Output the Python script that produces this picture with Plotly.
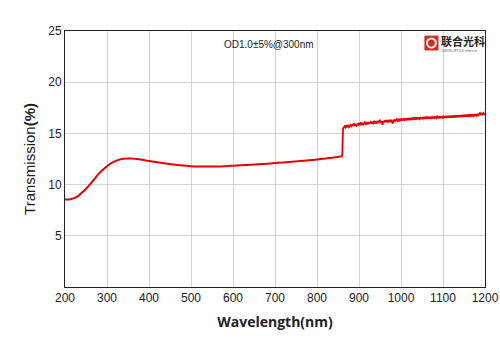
import plotly.graph_objects as go

# Smooth part of the transmission curve (nm, %)
wl_smooth = [200, 210, 220, 230, 240, 250, 260, 270, 280, 290, 300, 310, 320, 330, 340,
             350, 360, 370, 380, 390, 400, 420, 440, 460, 480, 500, 520, 540, 560, 580,
             600, 620, 640, 660, 680, 700, 720, 740, 760, 780, 800, 820, 840, 860]
t_smooth = [8.55, 8.55, 8.65, 8.85, 9.2, 9.6, 10.05, 10.55, 11.05, 11.45, 11.8, 12.1, 12.3, 12.45, 12.53,
            12.56, 12.55, 12.5, 12.44, 12.38, 12.3, 12.18, 12.05, 11.95, 11.86, 11.8, 11.77, 11.76, 11.77, 11.8,
            11.84, 11.88, 11.93, 11.98, 12.04, 12.1, 12.16, 12.23, 12.3, 12.38, 12.45, 12.55, 12.65, 12.76]

# Noisy part after the detector change (nm, %), every 2 nm from 862 to 1200
wl_noisy = list(range(862, 1201, 2))
t_noisy = [15.45, 15.62, 15.7, 15.58, 15.74, 15.66, 15.8, 15.62, 15.76, 15.84, 15.7, 15.78, 15.88, 15.72, 15.9, 15.8, 15.74, 15.92, 15.84, 15.96,
           15.82, 15.98, 15.9, 16.04, 15.86, 15.96, 16.08, 15.92, 16.02, 15.88, 16.1, 15.98, 16.06, 16.14, 15.94, 16.08, 16.0, 16.16, 16.04, 16.12,
           15.98, 16.2, 16.08, 16.14, 16.26, 16.02, 16.18, 15.85, 16.22, 16.1, 16.28, 16.16, 16.24, 16.08, 16.3, 16.18, 16.26, 16.12, 16.32, 15.95,
           16.22, 16.36, 16.2, 16.3, 16.4, 16.24, 16.34, 16.18, 16.42, 16.3, 16.38, 16.26, 16.46, 16.32, 16.4, 16.28, 16.48, 16.36, 16.44, 16.3,
           16.5, 16.38, 16.46, 16.34, 16.54, 16.42, 16.5, 16.36, 16.56, 16.44, 16.5, 16.4, 16.58, 16.46, 16.52, 16.38, 16.6, 16.48, 16.54, 16.42,
           16.6, 16.5, 16.56, 16.44, 16.62, 16.5, 16.58, 16.46, 16.64, 16.52, 16.6, 16.5, 16.66, 16.54, 16.6, 16.48, 16.68, 16.56, 16.62, 16.52,
           16.66, 16.58, 16.64, 16.52, 16.7, 16.58, 16.66, 16.54, 16.72, 16.6, 16.68, 16.56, 16.74, 16.62, 16.7, 16.58, 16.76, 16.64, 16.72, 16.6,
           16.78, 16.66, 16.74, 16.62, 16.8, 16.68, 16.76, 16.64, 16.84, 16.7, 16.78, 16.68, 16.86, 16.72, 16.8, 16.7, 16.88, 16.76, 16.82, 16.72,
           16.9, 16.78, 16.86, 16.98, 16.8, 16.92, 16.84, 17.0, 16.88, 16.95]

x_ticks = list(range(200, 1201, 100))
y_ticks = [5, 10, 15, 20, 25]

RED = "#e60000"
fig = go.Figure()
fig.add_trace(go.Scatter(x=wl_smooth, y=t_smooth, mode="lines", line_shape="spline",
                         line=dict(color=RED, width=2), showlegend=False))
fig.add_trace(go.Scatter(x=[wl_smooth[-1]] + wl_noisy, y=[t_smooth[-1]] + t_noisy, mode="lines",
                         line=dict(color=RED, width=1.8), showlegend=False))

fig.update_layout(
    width=500, height=353,
    margin=dict(l=65, r=15, t=31, b=66, autoexpand=False),
    paper_bgcolor="white", plot_bgcolor="white",
    font=dict(family="Liberation Sans, Arial, sans-serif", color="#222"),
    xaxis=dict(range=[200, 1200], tickvals=x_ticks, showgrid=True, gridcolor="#d4d4d4",
               gridwidth=1, showline=True, linecolor="#222", linewidth=1, mirror=True,
               ticks="", tickfont=dict(size=12), zeroline=False, automargin=False,
               title=dict(text="<b>Wavelength(nm)</b>", font=dict(size=14, family="Open Sans, sans-serif"),
                          standoff=12)),
    yaxis=dict(range=[0, 25], tickvals=y_ticks, showgrid=True, gridcolor="#d4d4d4",
               gridwidth=1, showline=True, linecolor="#222", linewidth=1, mirror=True,
               ticks="", tickfont=dict(size=12), zeroline=False, automargin=False,
               title=dict(text="Transmission<b>(%)</b>", font=dict(size=15), standoff=8)),
)

fig.add_annotation(text="OD1.0±5%@300nm", xref="paper", yref="paper", x=0.485, y=0.975,
                   xanchor="center", yanchor="top", showarrow=False,
                   font=dict(size=10, color="#222"))

# Logo
fig.add_shape(type="rect", xref="paper", yref="paper", x0=0.857, x1=0.888, y0=0.926, y1=0.98,
              fillcolor="#d9241c", line=dict(color="#d9241c", width=1))
fig.add_shape(type="circle", xref="paper", yref="paper", x0=0.862, x1=0.883, y0=0.935, y1=0.971,
              fillcolor="#d9241c", line=dict(color="white", width=2))
fig.add_annotation(text="<b>联合光科</b>", xref="paper", yref="paper", x=0.89, y=0.962,
                   xanchor="left", yanchor="middle", showarrow=False,
                   font=dict(size=11, color="#222", family="Noto Sans CJK SC"))
fig.add_annotation(text="UNION OPTICS 光学元件", xref="paper", yref="paper", x=0.893, y=0.922,
                   xanchor="left", yanchor="middle", showarrow=False,
                   font=dict(size=3, color="#555"))

fig.write_html("out.html")
